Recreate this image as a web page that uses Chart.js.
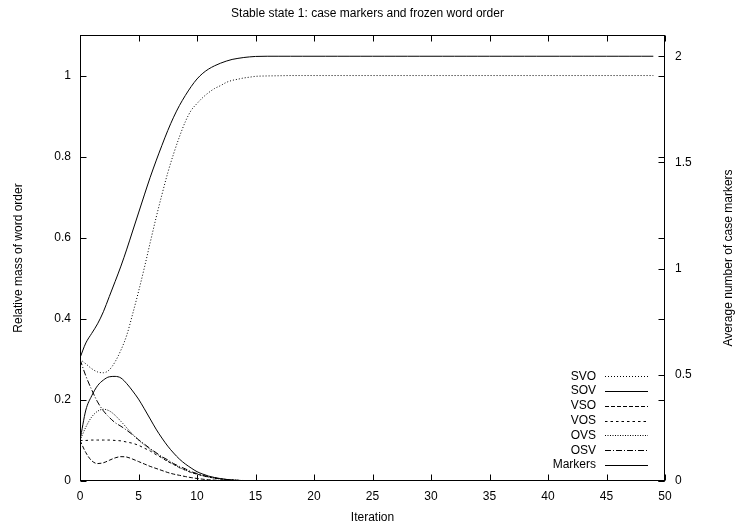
<!DOCTYPE html>
<html>
<head>
<meta charset="utf-8">
<title>Stable state 1: case markers and frozen word order</title>
<script src="https://cdn.jsdelivr.net/npm/chart.js@4.4.1/dist/chart.umd.min.js"></script>
<style>
  html, body { margin: 0; padding: 0; background: #fff; }
  #wrap { width: 735px; height: 529px; }
</style>
</head>
<body>
<div id="wrap"><canvas id="chart" width="735" height="529"></canvas></div>
<script>
// Iteration steps (half steps during the transition, whole steps afterwards)
const iterations = [0,0.5,1,1.5,2,2.5,3,3.5,4,4.5,5,5.5,6,6.5,7,7.5,8,8.5,9,9.5,10,10.5,11,11.5,12,12.5,13,13.5,14,14.5,15,
  16,17,18,19,20,21,22,23,24,25,26,27,28,29,30,31,32,33,34,35,36,37,38,39,40,41,42,43,44,45,46,47,48,49];

// Relative mass of each word order (left axis)
const svo = [0.3,0.289,0.277,0.269,0.267,0.274,0.294,0.323,0.36,0.412,0.467,0.526,0.588,0.649,0.706,0.76,0.807,0.849,0.886,0.914,0.931,0.946,0.958,0.968,0.975,0.983,0.988,0.991,0.994,0.996,0.998,
  0.999,0.9995,1,1,1,1,1,1,1,1,1,1,1,1,1,1,1,1,1,1,1,1,1,1,1,1,1,1,1,1,1,1,1,1];
const sov = [0.1,0.175,0.21,0.235,0.249,0.257,0.258,0.254,0.24,0.222,0.202,0.178,0.153,0.128,0.106,0.086,0.069,0.054,0.042,0.032,0.023,0.017,0.012,0.0086,0.0059,0.004,0.0025,0.0015,0.0007,0.0004,0.0001,
  0,0,0,0,0,0,0,0,0,0,0,0,0,0,0,0,0,0,0,0,0,0,0,0,0,0,0,0,0,0,0,0,0,0];
const vso = [0.1,0.07,0.05,0.043,0.045,0.051,0.057,0.06,0.059,0.054,0.048,0.042,0.036,0.031,0.026,0.021,0.017,0.014,0.011,0.0084,0.0062,0.0044,0.003,0.0022,0.0015,0.001,0.0005,0.0002,0.0001,0,0,
  0,0,0,0,0,0,0,0,0,0,0,0,0,0,0,0,0,0,0,0,0,0,0,0,0,0,0,0,0,0,0,0,0,0];
const vos = [0.1,0.1,0.101,0.101,0.101,0.101,0.1,0.099,0.096,0.093,0.088,0.081,0.074,0.065,0.057,0.048,0.041,0.033,0.027,0.021,0.017,0.013,0.0096,0.0072,0.0052,0.0037,0.0027,0.0017,0.0012,0.0007,0.0004,
  0.0001,0,0,0,0,0,0,0,0,0,0,0,0,0,0,0,0,0,0,0,0,0,0,0,0,0,0,0,0,0,0,0,0,0];
const ovs = [0.1,0.133,0.158,0.172,0.177,0.173,0.162,0.147,0.131,0.115,0.101,0.089,0.078,0.068,0.058,0.049,0.041,0.033,0.027,0.021,0.017,0.0126,0.0094,0.0069,0.0049,0.0035,0.0025,0.0017,0.001,0.0006,0.0002,
  0.0001,0,0,0,0,0,0,0,0,0,0,0,0,0,0,0,0,0,0,0,0,0,0,0,0,0,0,0,0,0,0,0,0,0];
const osv = [0.3,0.259,0.225,0.195,0.173,0.157,0.144,0.135,0.125,0.114,0.102,0.091,0.08,0.07,0.06,0.052,0.043,0.036,0.03,0.023,0.0185,0.014,0.0104,0.0074,0.0052,0.0037,0.0025,0.0015,0.001,0.0005,0.0002,
  0.0001,0,0,0,0,0,0,0,0,0,0,0,0,0,0,0,0,0,0,0,0,0,0,0,0,0,0,0,0,0,0,0,0,0];
// Average number of case markers (right axis)
const markers = [0.58,0.65,0.695,0.74,0.797,0.868,0.939,1.012,1.092,1.177,1.262,1.347,1.43,1.507,1.58,1.65,1.713,1.768,1.815,1.857,1.893,1.92,1.94,1.955,1.967,1.977,1.985,1.99,1.994,1.997,1.999,
  2,2,2,2,2,2,2,2,2,2,2,2,2,2,2,2,2,2,2,2,2,2,2,2,2,2,2,2,2,2,2,2,2,2];

// Axis ticks
const xTicks = [0,5,10,15,20,25,30,35,40,45,50];
const xTickLabels = ['0','5','10','15','20','25','30','35','40','45','50'];
const yTicks = [0,0.2,0.4,0.6,0.8,1];
const yTickLabels = ['0','0.2','0.4','0.6','0.8','1'];
const y2Ticks = [0,0.5,1,1.5,2];
const y2TickLabels = ['0','0.5','1','1.5','2'];

const FONT = "'Liberation Sans', Arial, Helvetica, sans-serif";
Chart.defaults.font.family = FONT;
Chart.defaults.font.size = 12;
Chart.defaults.color = '#000';

const pts = vals => iterations.map((x, i) => ({ x: x, y: vals[i] }));

function series(label, vals, dash, axis) {
  return {
    label: label,
    data: pts(vals),
    yAxisID: axis || 'y',
    borderColor: '#000',
    backgroundColor: '#000',
    borderWidth: 1,
    borderDash: dash,
    pointRadius: 0,
    fill: false,
    cubicInterpolationMode: 'monotone'
  };
}

// Border box with inward tick marks on all four sides
const frameTicks = {
  id: 'frameTicks',
  afterDatasetsDraw(chart) {
    const { ctx, chartArea: a, scales } = chart;
    const L = Math.round(a.left) + 0.5, R = Math.round(a.right) - 0.5;
    const T = Math.round(a.top) + 0.5, B = Math.round(a.bottom) - 0.5;
    const len = 6;
    ctx.save();
    ctx.strokeStyle = '#000';
    ctx.lineWidth = 1;
    ctx.setLineDash([]);
    ctx.beginPath();
    scales.x.ticks.forEach(t => {
      const px = Math.round(scales.x.getPixelForValue(t.value)) + 0.5;
      ctx.moveTo(px, B); ctx.lineTo(px, B - len);
      ctx.moveTo(px, T); ctx.lineTo(px, T + len);
    });
    scales.y.ticks.forEach(t => {
      const py = Math.round(scales.y.getPixelForValue(t.value)) + 0.5;
      ctx.moveTo(L, py); ctx.lineTo(L + len, py);
      ctx.moveTo(R, py); ctx.lineTo(R - len, py);
    });
    scales.y2.ticks.forEach(t => {
      const py = Math.round(scales.y2.getPixelForValue(t.value)) + 0.5;
      ctx.moveTo(R, py); ctx.lineTo(R - len, py);
    });
    ctx.stroke();
    ctx.strokeRect(L, T, R - L, B - T);

    // right-hand axis title, reading upwards
    ctx.fillStyle = '#000';
    ctx.font = '12px ' + FONT;
    ctx.textAlign = 'center';
    ctx.textBaseline = 'middle';
    ctx.translate(chart.width - 6, (a.top + a.bottom) / 2);
    ctx.rotate(-Math.PI / 2);
    ctx.fillText('Average number of case markers', 0, 0);
    ctx.restore();
  }
};

// Key in the lower right corner: label, then a line sample
const cornerKey = {
  id: 'cornerKey',
  afterDatasetsDraw(chart) {
    const { ctx, chartArea: a } = chart;
    const sets = chart.data.datasets;
    const step = 14.8;
    const textRight = a.right - 69;
    const x0 = a.right - 60, x1 = a.right - 17;
    ctx.save();
    ctx.font = '12px ' + FONT;
    ctx.fillStyle = '#000';
    ctx.textAlign = 'right';
    ctx.textBaseline = 'middle';
    sets.forEach((ds, i) => {
      const y = a.bottom - 16 - (sets.length - 1 - i) * step;
      ctx.fillText(ds.label, textRight, y);
      const py = Math.round(y) + 0.5;
      ctx.strokeStyle = ds.borderColor;
      ctx.lineWidth = ds.borderWidth;
      ctx.setLineDash(ds.borderDash || []);
      ctx.beginPath();
      ctx.moveTo(x0, py);
      ctx.lineTo(x1, py);
      ctx.stroke();
    });
    ctx.restore();
  }
};

new Chart(document.getElementById('chart'), {
  type: 'line',
  data: {
    datasets: [
      series('SVO', svo, [1, 2]),
      series('SOV', sov, []),
      series('VSO', vso, [4, 2]),
      series('VOS', vos, [2.5, 3]),
      series('OVS', ovs, [1, 1.5]),
      series('OSV', osv, [6, 2, 1, 2]),
      series('Markers', markers, [], 'y2')
    ]
  },
  options: {
    responsive: false,
    animation: false,
    layout: { padding: 0 },
    plugins: {
      legend: { display: false },
      tooltip: { enabled: false },
      title: {
        display: true,
        text: 'Stable state 1: case markers and frozen word order',
        color: '#000',
        font: { size: 12, weight: 'normal', family: FONT },
        padding: { top: 6, bottom: 14.6 }
      }
    },
    scales: {
      x: {
        type: 'linear',
        min: 0, max: 50,
        afterBuildTicks: s => { s.ticks = xTicks.map(v => ({ value: v })); },
        afterFit: s => { s.height = 48; },
        ticks: {
          callback: (v, i) => xTickLabels[i],
          padding: 8, maxRotation: 0, autoSkip: false,
          color: '#000', font: { size: 12 }
        },
        grid: { display: false, drawTicks: false },
        border: { display: false },
        title: { display: true, text: 'Iteration', color: '#000', font: { size: 12 }, padding: { top: 0, bottom: 4 } }
      },
      y: {
        type: 'linear', position: 'left',
        min: 0, max: 1.1,
        afterBuildTicks: s => { s.ticks = yTicks.map(v => ({ value: v })); },
        afterFit: s => { s.width = 80; },
        ticks: {
          callback: (v, i) => yTickLabels[i],
          padding: 9, autoSkip: false, color: '#000', font: { size: 12 }
        },
        grid: { display: false, drawTicks: false },
        border: { display: false },
        title: { display: true, text: 'Relative mass of word order', color: '#000', font: { size: 12 }, padding: { top: 11 } }
      },
      y2: {
        type: 'linear', position: 'right',
        min: 0, max: 2.1,
        afterBuildTicks: s => { s.ticks = y2Ticks.map(v => ({ value: v })); },
        afterFit: s => { s.width = 70; },
        ticks: {
          callback: (v, i) => y2TickLabels[i],
          padding: 10, autoSkip: false, color: '#000', font: { size: 12 }
        },
        grid: { display: false, drawTicks: false },
        border: { display: false }
      }
    }
  },
  plugins: [frameTicks, cornerKey]
});
</script>
</body>
</html>
